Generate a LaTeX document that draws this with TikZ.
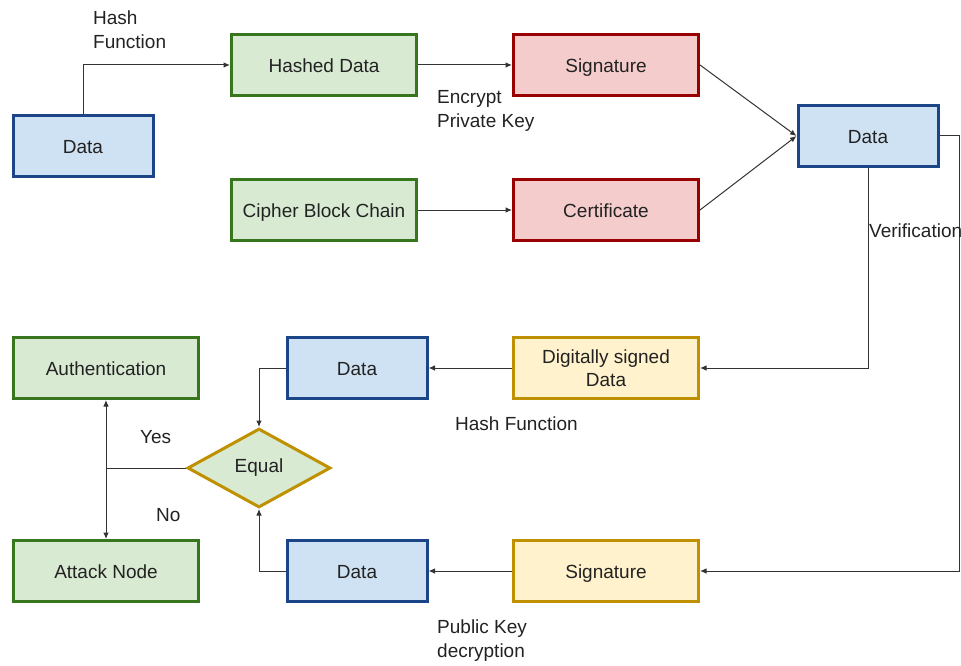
\documentclass[tikz,border=0pt]{standalone}
\usepackage{fontspec}
\setmainfont{Liberation Sans}
\usepackage{tikz}
\usetikzlibrary{arrows.meta}
\usetikzlibrary{shapes.geometric}

\definecolor{BlueFill}{HTML}{CFE2F3}
\definecolor{BlueEdge}{HTML}{1C4587}
\definecolor{GreenFill}{HTML}{D9EAD3}
\definecolor{GreenEdge}{HTML}{38761D}
\definecolor{RedFill}{HTML}{F4CCCC}
\definecolor{RedEdge}{HTML}{990000}
\definecolor{GoldFill}{HTML}{FFF2CC}
\definecolor{GoldEdge}{HTML}{BF9000}
\definecolor{Ink}{HTML}{222222}

\tikzset{
  boxbase/.style={rectangle, line width=3pt, minimum height=61pt, inner sep=2pt,
    text=Ink, font=\fontsize{19}{23}\selectfont},
  box/.style={boxbase, text height=15pt, text depth=0pt},
  bluebox/.style={box, draw=BlueEdge, fill=BlueFill, minimum width=140pt},
  greenbox/.style={box, draw=GreenEdge, fill=GreenFill, minimum width=185pt},
  redbox/.style={box, draw=RedEdge, fill=RedFill, minimum width=185pt},
  goldbox/.style={box, draw=GoldEdge, fill=GoldFill, minimum width=185pt},
  link/.style={draw=black!80, line width=1pt,
    -{Latex[length=6.5pt, width=5.5pt]}},
  lbl/.style={text=Ink, align=left, inner sep=0pt,
    font=\fontsize{19}{24}\selectfont},
}

\begin{document}
\begin{tikzpicture}[x=1pt, y=-1pt]
   \useasboundingbox (0,0) rectangle (961,666);

   % signing side
   \node (data1) at (83,146) [bluebox] {Data};
   \node (hashed) at (324,65) [greenbox] {Hashed Data};
   \node (sig1) at (606,65) [redbox] {Signature};
   \node (cbc) at (324,210) [greenbox] {Cipher Block Chain};
   \node (cert) at (606,210) [redbox] {Certificate};
   \node (data2) at (868,136) [bluebox] {Data};

   % verifying side
   \node (signed) at (606,368) [boxbase, draw=GoldEdge, fill=GoldFill,
      minimum width=185pt, align=center,
      font=\fontsize{19}{23}\selectfont] {Digitally signed\\Data};
   \node (data3) at (357,368) [bluebox] {Data};
   \node (sig2) at (606,571) [goldbox] {Signature};
   \node (data4) at (357,571) [bluebox] {Data};
   \node (equal) at (259,468) [diamond, draw=GoldEdge, fill=GreenFill,
      line width=3pt, minimum width=143pt, minimum height=79pt, inner sep=0pt,
      text=Ink, font=\fontsize{19}{23}\selectfont] {Equal};
   \node (auth) at (106,368) [greenbox] {Authentication};
   \node (attack) at (106,571) [greenbox] {Attack Node};
   \coordinate (rim) at (959,571);
   \coordinate (fork) at (106,468);

   \draw [link] (data1.north) |- (hashed.west);
   \draw [link] (hashed) -- (sig1);
   \draw [link] (cbc) -- (cert);
   \draw [link] (sig1.east) -- (data2.west);
   \draw [link] (cert.east) -- (data2.west);
   \draw [link] (data2.south) |- (signed.east);
   \draw [link] (data2.east) -| (rim) -- (sig2.east);
   \draw [link] (signed) -- (data3);
   \draw [link] (sig2) -- (data4);
   \draw [link] (data3.west) -| (equal.north);
   \draw [link] (data4.west) -| (equal.south);
   \draw [draw=black!80, line width=1pt] (equal.west) -- (fork);
   \draw [link, {Latex[length=6.5pt, width=5.5pt]}-{Latex[length=6.5pt, width=5.5pt]}]
      (auth.south) -- (attack.north);

   % edge labels
   \node (lhash1) at (93,30) [lbl, anchor=west] {Hash\\Function};
   \node (lenc) at (437,111) [lbl, anchor=west] {Encrypt\\Private Key};
   \node (lver) at (869,231) [lbl, anchor=west] {Verification};
   \node (lhash2) at (455,424) [lbl, anchor=west] {Hash Function};
   \node (lyes) at (140,437) [lbl, anchor=west] {Yes};
   \node (lno) at (156,515) [lbl, anchor=west] {No};
   \node (lpub) at (437,641) [lbl, anchor=west] {Public Key\\decryption};
\end{tikzpicture}
\end{document}
